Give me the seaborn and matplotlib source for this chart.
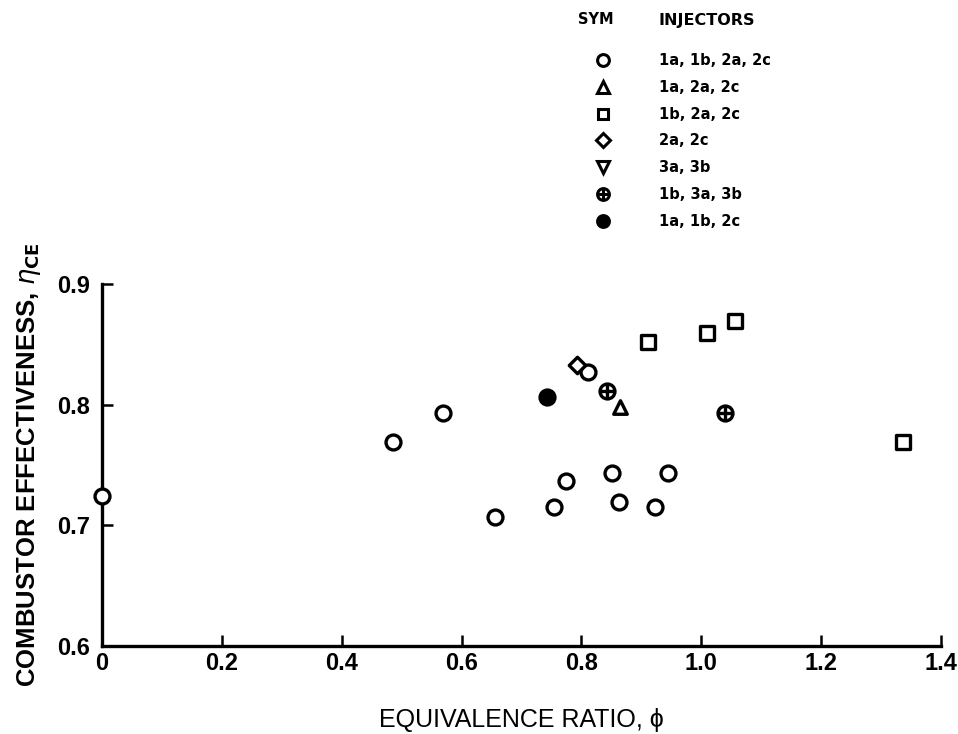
import numpy as np
import pandas as pd
import matplotlib
matplotlib.use("Agg")
import matplotlib.pyplot as plt
from matplotlib.path import Path
from matplotlib.lines import Line2D
import seaborn as sns

# ---- data ----
circle_x = [0.0, 0.486, 0.569, 0.656, 0.754, 0.774, 0.811, 0.851, 0.863, 0.923, 0.944]
circle_y = [0.724, 0.769, 0.793, 0.707, 0.715, 0.737, 0.827, 0.743, 0.719, 0.715, 0.743]
triangle_x = [0.864]
triangle_y = [0.798]
square_x = [0.911, 1.010, 1.056, 1.337]
square_y = [0.852, 0.859, 0.869, 0.769]
diamond_x = [0.793]
diamond_y = [0.833]
downtri_x = []
downtri_y = []
oplus_x = [0.843, 1.040]
oplus_y = [0.811, 0.793]
filled_x = [0.743]
filled_y = [0.806]

legend_labels = ["1a, 1b, 2a, 2c", "1a, 2a, 2c", "1b, 2a, 2c", "2a, 2c",
                 "3a, 3b", "1b, 3a, 3b", "1a, 1b, 2c"]
x_ticks = [0, 0.2, 0.4, 0.6, 0.8, 1.0, 1.2, 1.4]
x_ticklabels = ["0", "0.2", "0.4", "0.6", "0.8", "1.0", "1.2", "1.4"]
y_ticks = [0.6, 0.7, 0.8, 0.9]
y_ticklabels = ["0.6", "0.7", "0.8", "0.9"]

sns.set_theme(style="white")
plt.rcParams["font.family"] = ["Liberation Sans", "DejaVu Sans"]
plt.rcParams["text.color"] = "black"
plt.rcParams["axes.labelcolor"] = "black"
plt.rcParams["xtick.color"] = "black"
plt.rcParams["ytick.color"] = "black"

# circle-plus marker
oplus_path = Path.make_compound_path(
    Path.unit_circle(),
    Path([[-1, 0], [1, 0]], [Path.MOVETO, Path.LINETO]),
    Path([[0, -1], [0, 1]], [Path.MOVETO, Path.LINETO]),
)

fig = plt.figure(figsize=(9.58, 7.34), dpi=100)
ax = fig.add_axes([0.1065, 0.1199, 0.8758, 0.4932])

groups = [
    (circle_x, circle_y, "o", "white", 115),
    (triangle_x, triangle_y, "^", "white", 95),
    (square_x, square_y, "s", "white", 90),
    (diamond_x, diamond_y, "D", "white", 70),
    (downtri_x, downtri_y, "v", "white", 95),
    (oplus_x, oplus_y, oplus_path, "white", 115),
    (filled_x, filled_y, "o", "black", 115),
]
for gx, gy, mk, fc, s in groups:
    if len(gx) == 0:
        continue
    df = pd.DataFrame({"phi": gx, "eta": gy})
    sns.scatterplot(data=df, x="phi", y="eta", marker=mk, s=s, color=fc,
                    edgecolor="black", linewidth=2.4, ax=ax, legend=False,
                    clip_on=False, zorder=5)

ax.set_xlim(0, 1.4)
ax.set_ylim(0.6, 0.9)
ax.set_xticks(x_ticks)
ax.set_xticklabels(x_ticklabels)
ax.set_yticks(y_ticks)
ax.set_yticklabels(y_ticklabels)
for side in ["top", "right"]:
    ax.spines[side].set_visible(False)
for side in ["left", "bottom"]:
    ax.spines[side].set_visible(True)
    ax.spines[side].set_linewidth(2.4)
    ax.spines[side].set_color("black")
ax.tick_params(axis="both", which="major", direction="in", length=8, width=1.8,
               color="black", labelsize=17, bottom=True, left=True,
               labelcolor="black")
ax.tick_params(axis="x", pad=4)
ax.tick_params(axis="y", pad=9)
for lab in ax.get_xticklabels() + ax.get_yticklabels():
    lab.set_fontweight("bold")
ax.set_xlabel("EQUIVALENCE RATIO, \u03d5", fontsize=18, labelpad=24, color="black")
ax.set_ylabel(r"COMBUSTOR EFFECTIVENESS, $\eta_{\mathbf{CE}}$", fontsize=18.5,
              fontweight="bold", labelpad=10, color="black")
ax.grid(False)

# legend
handles = [
    Line2D([], [], ls="", marker="o", mfc="white", mec="black", mew=2.2, ms=8.5),
    Line2D([], [], ls="", marker="^", mfc="white", mec="black", mew=2.2, ms=8.5),
    Line2D([], [], ls="", marker="s", mfc="white", mec="black", mew=2.2, ms=7.5),
    Line2D([], [], ls="", marker="D", mfc="white", mec="black", mew=2.2, ms=7),
    Line2D([], [], ls="", marker="v", mfc="white", mec="black", mew=2.2, ms=8.5),
    Line2D([], [], ls="", marker=oplus_path, mfc="white", mec="black", mew=2.2, ms=8.5),
    Line2D([], [], ls="", marker="o", mfc="black", mec="black", mew=2.2, ms=8.5),
]
leg = fig.legend(handles, legend_labels, loc="upper left",
                 bbox_to_anchor=(596 / 958, 1 - 53 / 734), frameon=False,
                 prop={"weight": "bold", "size": 10.5, "family": "DejaVu Sans"},
                 handlelength=1.0, handletextpad=3.3, labelspacing=0.81,
                 borderpad=0, borderaxespad=0, labelcolor="black")
fig.text(596 / 958, 1 - 20 / 734, "SYM", ha="center", va="center",
         fontsize=10.5, fontweight="bold", family="DejaVu Sans", color="black")
fig.text(658 / 958, 1 - 20 / 734, "INJECTORS", ha="left", va="center",
         fontsize=11.5, fontweight="bold", family="DejaVu Sans", color="black")

fig.savefig("out.png", dpi=100)
